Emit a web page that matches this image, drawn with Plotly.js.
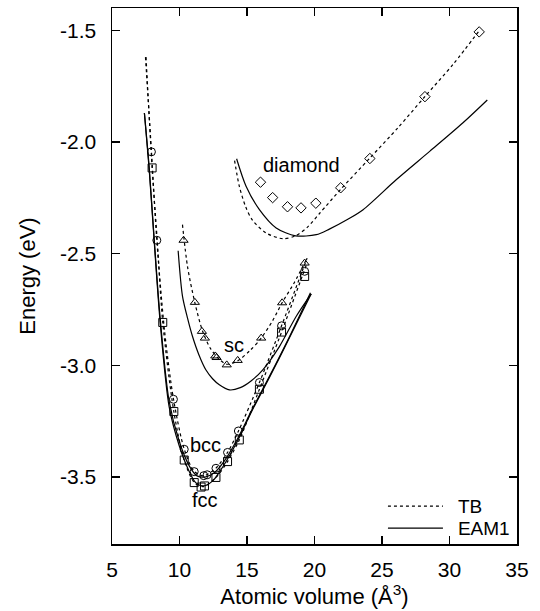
<!DOCTYPE html>
<html>
<head>
<meta charset="utf-8">
<script src="https://cdn.plot.ly/plotly-3.0.1.min.js"></script>
<style>html,body{margin:0;padding:0;background:#fff;}#chart{width:540px;height:611px;}</style>
</head>
<body>
<div id="chart"></div>
<script>
// ---- data points (TB, symbols) ----
const bccV = [7.92, 8.32, 9.55, 10.35, 11.09, 11.8, 12.05, 12.7, 13.56, 14.36, 15.92, 17.56, 19.27];
const bccE = [-2.044, -2.44, -3.152, -3.376, -3.476, -3.494, -3.49, -3.461, -3.39, -3.294, -3.077, -2.823, -2.579];
const fccV = [7.97, 8.76, 9.58, 10.35, 11.09, 11.6, 11.85, 12.7, 13.56, 14.43, 15.92, 17.56, 19.27];
const fccE = [-2.116, -2.808, -3.207, -3.424, -3.525, -3.545, -3.54, -3.502, -3.431, -3.334, -3.107, -2.851, -2.602];
const scV = [10.3, 11.14, 11.66, 11.88, 12.65, 12.75, 13.5, 14.31, 16.05, 17.6, 19.27];
const scE = [-2.44, -2.718, -2.848, -2.878, -2.958, -2.965, -2.998, -2.978, -2.878, -2.72, -2.542];
const diaV = [16.0, 16.9, 18.0, 19.0, 20.1, 21.94, 24.1, 28.18, 32.2];
const diaE = [-2.18, -2.249, -2.29, -2.295, -2.274, -2.205, -2.074, -1.797, -1.507];

// ---- TB curves (dotted) ----
const tbBccV = [7.48, 7.92, 8.32, 8.9, 9.55, 10.35, 11.09, 11.8, 12.7, 13.56, 14.36, 15.92, 17.56, 19.45];
const tbBccE = [-1.62, -2.04, -2.44, -2.85, -3.15, -3.375, -3.475, -3.495, -3.46, -3.39, -3.295, -3.077, -2.823, -2.52];
const tbFccV = [7.52, 7.97, 8.35, 8.76, 9.58, 10.35, 11.1, 11.75, 12.7, 13.56, 14.43, 15.92, 17.56, 19.4];
const tbFccE = [-1.62, -2.116, -2.44, -2.808, -3.207, -3.425, -3.525, -3.543, -3.502, -3.431, -3.334, -3.107, -2.851, -2.55];
const tbScV = [10.22, 10.6, 11.14, 11.7, 12.3, 12.9, 13.5, 14.3, 15.2, 16.05, 16.9, 17.6, 18.5, 19.45];
const tbScE = [-2.37, -2.56, -2.72, -2.845, -2.925, -2.97, -2.995, -2.98, -2.935, -2.878, -2.80, -2.72, -2.63, -2.52];
const tbDiaV = [14.08, 14.43, 14.9, 15.4, 16.4, 17.65, 18.6, 19.5, 20.4, 21.94, 24.1, 26.2, 28.2, 30.3, 32.27];
const tbDiaE = [-2.083, -2.198, -2.29, -2.35, -2.407, -2.433, -2.42, -2.38, -2.318, -2.212, -2.072, -1.935, -1.795, -1.65, -1.496];

// ---- EAM1 curves (solid) ----
const eamFccV = [7.4, 7.75, 8.12, 8.57, 9.23, 9.98, 10.72, 11.2, 11.8, 12.5, 13.2, 14.2, 15.4, 16.7, 18.2, 19.75];
const eamFccE = [-1.87, -2.12, -2.44, -2.81, -3.185, -3.36, -3.475, -3.525, -3.54, -3.515, -3.455, -3.35, -3.20, -3.05, -2.87, -2.68];
const eamBccV = [7.4, 7.75, 8.12, 8.57, 9.23, 9.98, 10.72, 11.3, 11.9, 12.6, 13.3, 14.2, 15.4, 16.7, 18.2, 19.7];
const eamBccE = [-1.87, -2.11, -2.43, -2.79, -3.16, -3.34, -3.45, -3.495, -3.50, -3.48, -3.43, -3.34, -3.195, -3.045, -2.865, -2.675];
const eamScV = [9.9, 10.22, 10.6, 10.96, 11.45, 11.95, 12.45, 12.95, 13.7, 14.5, 15.3, 16.17, 17.4, 18.65, 19.76];
const eamScE = [-2.487, -2.69, -2.79, -2.87, -2.955, -3.02, -3.06, -3.087, -3.11, -3.10, -3.07, -3.02, -2.916, -2.78, -2.68];
const eamDiaV = [14.23, 14.93, 15.92, 17.16, 18.6, 20.13, 21.1, 22.5, 23.6, 26.07, 28.55, 31.0, 32.8];
const eamDiaE = [-2.075, -2.198, -2.303, -2.385, -2.42, -2.415, -2.39, -2.345, -2.303, -2.168, -2.041, -1.914, -1.812];

// ---- labels ----
const xTicks = [5, 10, 15, 20, 25, 30, 35];
const xTickText = ['5', '10', '15', '20', '25', '30', '35'];
const yTicks = [-3.5, -3.0, -2.5, -2.0, -1.5];
const yTickText = ['-3.5', '-3.0', '-2.5', '-2.0', '-1.5'];
const structLabels = ['diamond', 'sc', 'bcc', 'fcc'];
const structLabelV = [19.04, 14.06, 11.91, 11.91];
const structLabelE = [-2.105, -2.908, -3.357, -3.603];
const legendNames = ['TB', 'EAM1'];

const FONT = 'Liberation Sans, Arial, Helvetica, sans-serif';
const dotLine = {color: '#000', width: 1.2, dash: '3px,3px', shape: 'spline', smoothing: 0.8};
const solidLine = {color: '#000', width: 1.2, shape: 'spline', smoothing: 0.8};

function curve(x, y, line, name, showlegend) {
  return {x: x, y: y, type: 'scatter', mode: 'lines', line: line, name: name,
          showlegend: !!showlegend, hoverinfo: 'skip'};
}
function pts(x, y, symbol, size) {
  return {x: x, y: y, type: 'scatter', mode: 'markers', showlegend: false, hoverinfo: 'skip',
          marker: {symbol: symbol, size: size, color: '#000', line: {color: '#000', width: 1}}};
}

const traces = [
  curve(tbBccV, tbBccE, dotLine, legendNames[0], true),
  curve(tbFccV, tbFccE, dotLine, legendNames[0], false),
  curve(tbScV, tbScE, dotLine, legendNames[0], false),
  curve(tbDiaV, tbDiaE, dotLine, legendNames[0], false),
  curve(eamFccV, eamFccE, solidLine, legendNames[1], true),
  curve(eamBccV, eamBccE, solidLine, legendNames[1], false),
  curve(eamScV, eamScE, solidLine, legendNames[1], false),
  curve(eamDiaV, eamDiaE, solidLine, legendNames[1], false),
  pts(bccV, bccE, 'circle-open', 8),
  pts(fccV, fccE, 'square-open', 8),
  pts(scV, scE, 'triangle-up-open', 8),
  pts(diaV, diaE, 'diamond-open', 8)
];

const annotations = structLabels.map((t, i) => ({
  x: structLabelV[i], y: structLabelE[i], xref: 'x', yref: 'y', text: t, showarrow: false,
  font: {family: FONT, size: 20, color: '#000'}, xanchor: 'center', yanchor: 'middle'
}));

const layout = {
  width: 540, height: 611,
  margin: {l: 112, r: 23, t: 8, b: 67},
  paper_bgcolor: '#fff', plot_bgcolor: '#fff',
  font: {family: FONT, size: 20, color: '#000'},
  showlegend: true,
  legend: {x: 0.669, xanchor: 'left', y: 0.106, yanchor: 'top', bgcolor: 'rgba(0,0,0,0)',
           borderwidth: 0, font: {family: FONT, size: 19, color: '#000'}, itemwidth: 65,
           tracegroupgap: 0},
  xaxis: {
    range: [5, 35], tickmode: 'array', tickvals: xTicks, ticktext: xTickText,
    ticks: 'inside', ticklen: 8, tickwidth: 1.5, tickcolor: '#000',
    showline: true, linewidth: 1.5, linecolor: '#000', mirror: 'ticks',
    showgrid: false, zeroline: false, ticklabelstandoff: 6,
    tickfont: {family: FONT, size: 21, color: '#000'},
    title: {text: 'Atomic volume (Å<sup>3</sup>)', font: {family: FONT, size: 22, color: '#000'}, standoff: 8}
  },
  yaxis: {
    range: [-3.8, -1.4], tickmode: 'array', tickvals: yTicks, ticktext: yTickText,
    ticks: 'inside', ticklen: 8, tickwidth: 1.5, tickcolor: '#000',
    showline: true, linewidth: 1.5, linecolor: '#000', mirror: 'ticks',
    showgrid: false, zeroline: false, ticklabelstandoff: 10,
    tickfont: {family: FONT, size: 21, color: '#000'},
    title: {text: 'Energy (eV)', font: {family: FONT, size: 22, color: '#000'}, standoff: 18}
  },
  annotations: annotations
};

Plotly.newPlot('chart', traces, layout, {displayModeBar: false, staticPlot: true}).then(function () {
  // shorten the legend sample lines so the gap before the text matches the original figure
  document.querySelectorAll('.legend .legendlines path').forEach(function (p) {
    p.setAttribute('d', 'M5,0h55');
  });
  // tighten the spacing between the two legend entries
  const items = document.querySelectorAll('.legend .traces');
  if (items.length === 2) {
    const m = /translate\(([-\d.]+)[ ,]+([-\d.]+)\)/.exec(items[0].getAttribute('transform') || '');
    if (m) items[1].setAttribute('transform', 'translate(' + m[1] + ',' + (parseFloat(m[2]) + 22) + ')');
  }
});
</script>
</body>
</html>
